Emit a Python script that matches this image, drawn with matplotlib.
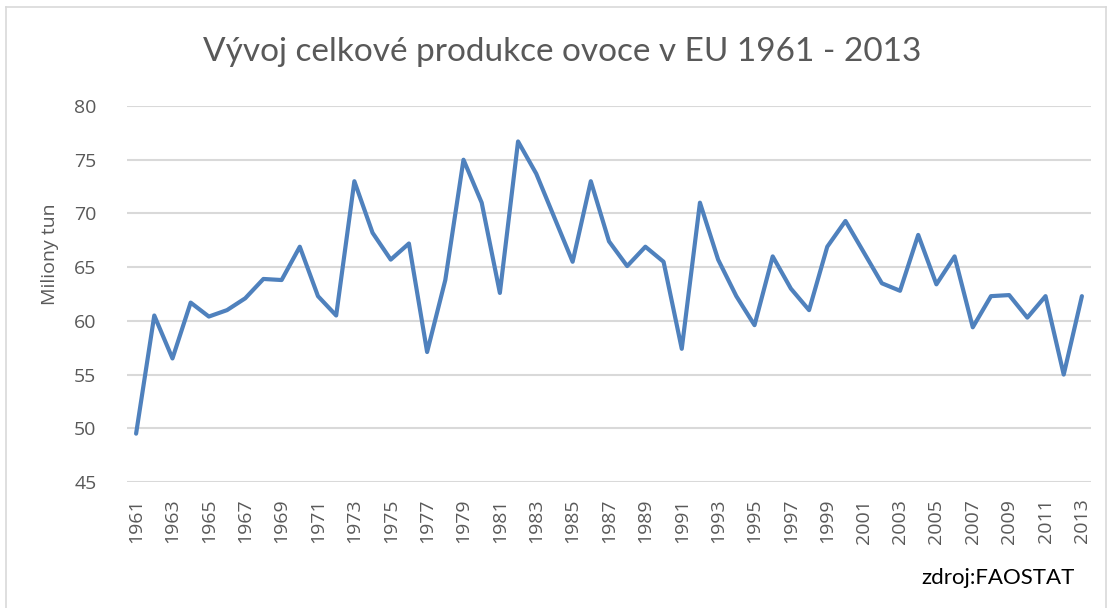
import matplotlib
matplotlib.use("Agg")
import matplotlib.pyplot as plt
from matplotlib.lines import Line2D

years = list(range(1961, 2014))
production = [
    49.5, 60.5, 56.5, 61.7, 60.4, 61.0, 62.1, 63.9, 63.8, 66.9,
    62.3, 60.5, 73.0, 68.2, 65.7, 67.2, 57.1, 63.8, 75.0, 71.0,
    62.6, 76.7, 73.7, 69.6, 65.5, 73.0, 67.4, 65.1, 66.9, 65.5,
    57.4, 71.0, 65.7, 62.3, 59.6, 66.0, 63.0, 61.0, 66.9, 69.3,
    66.4, 63.5, 62.8, 68.0, 63.4, 66.0, 59.4, 62.3, 62.4, 60.3,
    62.3, 55.0, 62.3,
]
yticks = [45, 50, 55, 60, 65, 70, 75, 80]
xtick_years = years[::2]

title = "Vývoj celkové produkce ovoce v EU 1961 - 2013"
ylabel = "Miliony tun"
source = "zdroj:FAOSTAT"

W, H = 1111, 608
fig = plt.figure(figsize=(W / 100, H / 100), dpi=100)
ax = fig.add_axes([127 / W, 1 - 482 / H, (1091 - 127) / W, (482 - 106) / H])

ax.plot(years, production, color="#4F81BD", lw=3.0, solid_joinstyle="round",
        solid_capstyle="round", zorder=3)
ax.set_xlim(1960.5, 2013.5)
ax.set_ylim(45, 80)
ax.set_yticks(yticks)
ax.set_xticks(xtick_years)
ax.set_xticklabels([str(y) for y in xtick_years], rotation=90,
                   fontsize=14, color="#595959", family="Open Sans")
ax.set_yticklabels([str(v) for v in yticks], fontsize=14, color="#595959",
                   family="Open Sans")
ax.tick_params(axis="both", length=0)
ax.tick_params(axis="y", pad=22)
ax.tick_params(axis="x", pad=12)
ax.grid(axis="y", color="#D9D9D9", lw=1.5, zorder=0)
for s in ax.spines.values():
    s.set_visible(False)

fig.text(562 / W, 1 - 52 / H, title, ha="center", va="center", fontsize=24,
         color="#595959", family="Lato")
fig.text(50 / W, 1 - 254 / H, ylabel, ha="center", va="center", rotation=90,
         fontsize=14, color="#595959", family="Open Sans")
fig.text(1075 / W, 1 - 578 / H, source, ha="right", va="center", fontsize=16,
         color="#000000", family="Lato")

# chart-area border
bc = "#D9D9D9"
fig.add_artist(Line2D([6 / W, 6 / W], [0, 1 - 7 / H], color=bc, lw=1.2))
fig.add_artist(Line2D([6 / W, 1106 / W], [1 - 7 / H, 1 - 7 / H], color=bc, lw=1.2))
fig.add_artist(Line2D([1106 / W, 1106 / W], [0, 1 - 7 / H], color=bc, lw=1.2))

fig.savefig("out.png", dpi=100)
